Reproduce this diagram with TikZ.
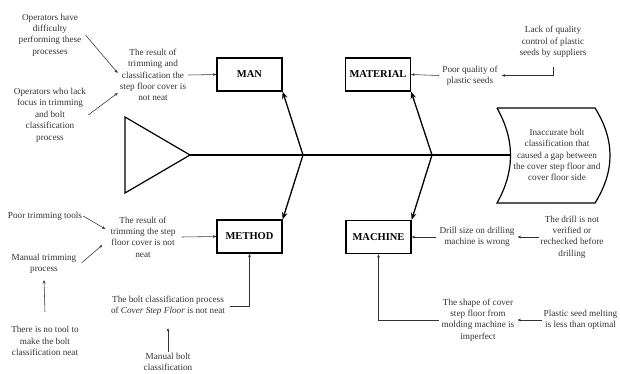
\documentclass[tikz,border=0pt]{standalone}
\usepackage{fontspec}
\setmainfont{Liberation Serif}
\usetikzlibrary{arrows.meta,calc}
\definecolor{txtc}{HTML}{333333}
\begin{document}
\begin{tikzpicture}[x=1pt,y=-1pt,
  txt/.style={font=\fontsize{9.2}{11.4}\selectfont, text=txtc, align=center, inner sep=0pt},
  cat/.style={draw=black, line width=1.3pt, minimum width=65pt, minimum height=33pt, font=\fontsize{10.5}{12}\selectfont\bfseries, inner sep=0pt},
  thinarr/.style={draw=txtc, line width=0.55pt, -{Stealth[length=3.5pt,width=2.8pt]}},
  bigarr/.style={draw=black, line width=1.3pt, -{Stealth[length=7pt,width=5.5pt]}},
  bone/.style={draw=black, line width=1.2pt}]
\useasboundingbox (0,0) rectangle (620,373);

% fish tail and spine
\coordinate (tailtip) at (190,155);
\coordinate (j1) at (303,155);
\coordinate (j2) at (432,155);
\coordinate (headleft) at (511,155);
\draw[bone] (125,117) -- (tailtip) -- (125,193) -- cycle;
\draw[bone] (tailtip) -- (headleft);
\draw[bone] (497,108) -- (595,108) .. controls (615,140) and (615,171) .. (595,203)
  -- (497,203) .. controls (515,171) and (515,140) .. (497,108);
\node[txt] (head) at (557,155) {Inaccurate bolt\\classification that\\caused a gap between\\the cover step floor and\\cover floor side};

% category boxes
\node[cat] (man) at (249.5,74.5) {MAN};
\node[cat] (material) at (378,74.5) {MATERIAL};
\node[cat] (method) at (249.5,236.5) {METHOD};
\node[cat] (machine) at (378.5,237) {MACHINE};

\draw[bigarr] (j1) -- (man.south east);
\draw[bigarr] (j1) -- (method.north east);
\draw[bigarr] (j2) -- (material.south east);
\draw[bigarr] (j2) -- (machine.north east);

% MAN
\node[txt] (op1) at (50,35) {Operators have\\difficulty\\performing these\\processes};
\node[txt] (op2) at (50,115) {Operators who lack\\focus in trimming\\and bolt\\classification\\process};
\node[txt] (res1) at (153,75) {The result of\\trimming and\\classification the\\step floor cover is\\not neat};
\draw[thinarr] ($(op1.east)+(4,0)$) -- ($(res1.west)+(-2,-2)$);
\draw[thinarr] ($(op2.east)+(2,0)$) -- ($(res1.west)+(-2,18)$);
\draw[thinarr] ($(res1.east)+(2,0)$) -- (man.west);

% MATERIAL
\node[txt] (poor) at (470,75.5) {Poor quality of\\plastic seeds};
\node[txt] (lack) at (553,42) {Lack of quality\\control of plastic\\seeds by suppliers};
\draw[thinarr] ($(poor.west)+(-3,0)$) -- (material.east);
\draw[thinarr] ($(lack.south)+(0,9)$) |- ($(poor.east)+(4,0)$);

% METHOD
\node[txt] (ptt) at (45,216) {Poor trimming tools};
\node[txt] (mtp) at (44,264) {Manual trimming\\process};
\node[txt] (res2) at (143,237) {The result of\\trimming the step\\floor cover is not\\neat};
\node[txt] (ntool) at (45,341) {There is no tool to\\make the bolt\\classification neat};
\node[txt] (bcp) at (168,306) {The bolt classification process\\of \textit{Cover Step Floor} is not neat};
\node[txt] (mbc) at (168,362) {Manual bolt\\classification};
\draw[thinarr] ($(ptt.east)+(1,0)$) -- ($(res2.west)+(-5,-8)$);
\draw[thinarr] ($(mtp.east)+(5,-1)$) -- ($(res2.west)+(-8,8)$);
\draw[thinarr] ($(res2.east)+(6,0)$) -- (method.west);
\draw[thinarr] ($(ntool.north)+(0,-14)$) -- ($(mtp.south)+(0,6)$);
\draw[thinarr] ($(bcp.east)+(5,0)$) -| (method.south);
\draw[thinarr] ($(mbc.north)+(0,-1)$) -- ($(bcp.south)+(0,12)$);

% MACHINE
\node[txt] (dsz) at (477,237) {Drill size on drilling\\machine is wrong};
\node[txt] (drill) at (572,237) {The drill is not\\verified or\\rechecked before\\drilling};
\node[txt] (shape) at (478,320) {The shape of cover\\step floor from\\molding machine is\\imperfect};
\node[txt] (psm) at (580.5,320) {Plastic seed melting\\is less than optimal};
\draw[thinarr] ($(psm.west)+(-2,0)$) -- ($(shape.east)+(3,0)$);
\draw[thinarr] ($(dsz.west)+(-3,0)$) -- (machine.east);
\draw[thinarr] ($(drill.west)+(-1,0)$) -- ($(dsz.east)+(3,0)$);
\draw[thinarr] ($(shape.west)+(-3,0)$) -| (machine.south);
\end{tikzpicture}
\end{document}
